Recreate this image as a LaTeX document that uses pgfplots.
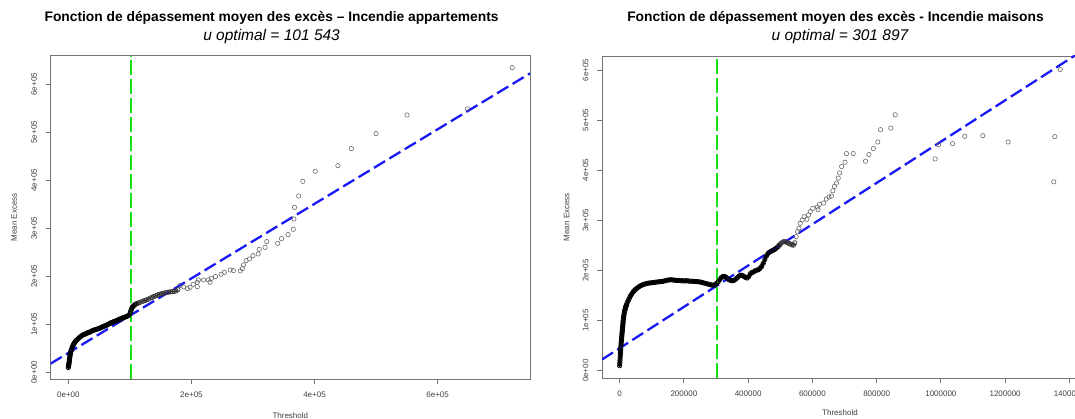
\documentclass[border=0pt]{standalone}
\usepackage{pgfplots}
\pgfplotsset{compat=1.18}
\usepackage{fontspec}
\setmainfont{Liberation Sans}
\definecolor{rgreen}{RGB}{25,225,25}
\definecolor{rblue}{RGB}{25,25,245}
\pgfplotsset{
 rstyle/.style={
  scale only axis,
  anchor=south west,
  axis line style={draw=black!55, line width=0.8pt},
  tick align=outside,
  xtick pos=bottom, ytick pos=left,
  major tick length=5pt,
  every tick/.style={black!55, line width=0.8pt},
  tick label style={font=\fontsize{8}{9}\selectfont, text=black!75},
  yticklabel style={rotate=90, anchor=south},
  xticklabel shift=4pt,
  yticklabel shift=5pt,
  label style={font=\fontsize{8}{9}\selectfont, text=black!75},
  xlabel={Threshold}, ylabel={Mean Excess},
  scaled ticks=false,
  ytick={0,100000,200000,300000,400000,500000,600000},
  yticklabels={0e+00,1e+05,2e+05,3e+05,4e+05,5e+05,6e+05},
 },
 sparse/.style={only marks, mark=o, mark size=2.2pt, mark options={draw=black!62, line width=0.55pt}},
 dense/.style={black, line width=3pt, line join=round, line cap=round, mark=o, mark size=2.2pt, mark options={draw=black, line width=0.8pt, solid}},
 semidense/.style={black!85, line width=1.2pt, line join=round, mark=o, mark size=2.2pt, mark options={draw=black!80, line width=0.7pt, solid}},
 blueline/.style={rblue, line width=2.3pt, dash pattern=on 13pt off 5pt},
 greenline/.style={rgreen, line width=2pt, dash pattern=on 15pt off 4pt},
}
\begin{document}
\begin{tikzpicture}
\path[use as bounding box] (0,0) rectangle (1075pt,419pt);
\node[font=\fontsize{13.8}{15}\selectfont\bfseries] at (271.6pt,401pt) {Fonction de dépassement moyen des excès – Incendie appartements};
\node[font=\fontsize{15.5}{17}\selectfont\itshape] at (271.6pt,382.5pt) {u optimal = 101 543};
\node[font=\fontsize{13.8}{15}\selectfont\bfseries] at (835.5pt,401pt) {Fonction de dépassement moyen des excès - Incendie maisons};
\node[font=\fontsize{15.5}{17}\selectfont\itshape] at (840pt,382.5pt) {u optimal = 301 897};

\begin{axis}[rstyle,
  at={(50.6pt,39.7pt)}, width=479.4pt, height=323.6pt,
  xmin=-28850, xmax=750150, ymin=-14600, ymax=659600,
  xtick={0,200000,400000,600000},
  xticklabels={0e+00,2e+05,4e+05,6e+05},
  xlabel style={at={(axis description cs:0.5,-0.112)}, anchor=center},
  ylabel style={at={(axis description cs:-0.076,0.5)}, anchor=center},
]
\addplot[dense] coordinates {
(0,10000) (300,12500) (600,15000) (900,17500) (1200,20000) (1500,23000) (1800,26000) (2100,29000) (2400,32000) (2700,35000) (3000,37000) (3500,40000) (4000,43000) (4500,45000) (5000,47000) (6000,51000) (7000,54000) (8000,57000) (9000,59500) (10000,61500) (11000,63500) (12000,65000) (13000,66500) (14000,67500) (16000,70000) (18000,72500) (20000,74500) (22000,76500) (24000,78000) (26000,79000) (28000,80000) (30000,81500) (32000,82500) (34000,83500) (36000,84500) (38000,86000) (40000,87000) (42000,88000) (44000,89000) (46000,89500) (48000,90500) (50000,91500) (52000,92500) (54000,93500) (56000,95000) (58000,96000) (60000,97000) (62000,98000) (64000,99500) (66000,101000) (68000,102000) (70000,103500) (72000,104500) (74000,105500) (76000,106500) (78000,107500) (80000,108500) (82000,110000) (84000,111000) (86000,112000) (88000,113000) (90000,114000) (92000,115000) (94000,116000) (96000,117000) (98000,118500) (100000,122000) (101000,126000) (102000,130000) (103000,133000) (104000,135500) (105000,137000) (107000,139500) (109000,141500) (112000,143500)
};
\addplot[semidense] coordinates {
(112000,143500) (115000,145000) (118000,146500) (121000,148000) (124000,149500) (127000,151000) (130000,152500) (133000,154500) (136000,156000) (139000,158000) (142000,159500) (145000,161000) (148000,162500) (151000,163500) (154000,164500) (157000,165500) (160000,166500) (163000,167000) (166000,167500) (169000,168000) (172000,168500) (175000,169500) (178000,172000)
};
\addplot[sparse] coordinates {
(181000,180500) (187700,177800) (193300,174300) (197800,177100) (202800,183300) (209500,178500) (209500,187500) (211200,192400) (219600,192400) (227400,192400) (230200,187500) (232400,195800) (239100,199300) (248100,204200) (253600,208300) (263100,213200) (268200,211800) (279300,211100) (282700,216000) (284400,223600) (288900,232600) (294400,236100) (300000,243000) (308400,246500) (310100,256200) (319600,260400) (322400,272200) (340200,268700) (346400,278500) (357000,286800) (365400,297900) (366500,319400) (367600,343700) (374300,367300) (381000,397900) (401100,418700) (438000,430500) (459800,466000) (500000,497200) (550300,536100) (648600,548600) (721300,634700)
};
\addplot[blueline] coordinates {(-28850,18010) (750150,622760)};
\addplot[greenline] coordinates {(101543,-14600) (101543,659600)};
\end{axis}

\begin{axis}[rstyle,
  at={(602pt,40.7pt)}, width=476pt, height=322.3pt,
  xmin=-54900, xmax=1426900, ymin=-15200, ymax=627900,
  xtick={0,200000,400000,600000,800000,1000000,1200000,1400000},
  xticklabels={0,200000,400000,600000,800000,1000000,1200000,1400000},
  xlabel style={at={(axis description cs:0.5,-0.106)}, anchor=center},
  ylabel style={at={(axis description cs:-0.074,0.5)}, anchor=center},
]
\addplot[dense] coordinates {
(0,10000) (500,15000) (1000,20000) (1500,25000) (2000,30000) (2500,35000) (3000,40000) (3500,44500) (4000,49000) (4500,53000) (5000,57000) (5500,60500) (6000,64000) (6500,67500) (7000,71000) (7500,74500) (8000,78000) (8500,81500) (9000,85000) (9500,88500) (10000,92000) (10500,95500) (11000,99000) (11500,102000) (12000,105000) (12500,107500) (13000,110000) (14000,114000) (15000,117500) (16000,120000) (17000,122500) (18000,125000) (19000,127000) (20000,129000) (21000,131000) (23000,134500) (26000,139000) (29000,143000) (32000,147000) (35000,150500) (38000,153500) (42000,157000) (46000,160000) (50000,162500) (55000,165000) (60000,167500) (65000,169500) (70000,171000) (76000,172500) (82000,173500) (88000,174500) (94000,175000) (100000,175500) (106000,176000) (112000,176500) (118000,177000) (124000,177500) (130000,178000) (136000,178500) (142000,179500) (148000,180500) (154000,181000) (160000,181500) (166000,181000) (172000,180500) (178000,180000) (184000,180000) (190000,179500) (196000,179500) (202000,179000) (208000,179500) (214000,179000) (220000,178500) (226000,178500) (232000,178000) (238000,178000) (244000,177500) (250000,177000) (256000,176000) (262000,175000) (268000,174000) (274000,173000) (280000,172000) (286000,171000) (292000,170500) (297000,171500) (302000,174000) (307000,177500) (312000,182000) (317000,186000) (322000,188000) (327000,188000) (332000,186000) (337000,183000) (342000,181000) (347000,180000) (352000,179500) (357000,180500) (362000,183000) (367000,186000) (372000,189000) (377000,190500) (382000,190000) (387000,188000) (392000,186000) (397000,185000) (402000,188000) (407000,193500) (412000,196000) (417000,197000) (422000,199500) (427000,200500) (432000,201500) (437000,204000) (442000,208000) (447000,214000) (452000,222000) (457000,229000) (462000,234000) (467000,236500) (472000,238500) (477000,240000) (482000,242000) (487000,244000) (492000,247000) (497000,250500)
};
\addplot[semidense] coordinates {
(497000,250500) (502000,254000) (507000,256500) (512000,257500) (517000,257000) (522000,255500) (527000,254000) (532000,252500) (537000,251000) (541000,250500) (545000,255000)
};
\addplot[sparse] coordinates {
(549600,267400) (553700,277300) (558000,284100) (562000,294100) (568300,300700) (574500,307300) (582900,302100) (588000,310700) (593200,317300) (601600,324000) (615700,326500) (617800,321200) (622100,331800) (634800,334500) (643300,342400) (651800,346400) (659200,348400) (663500,359000) (668800,367600) (675200,374200) (680500,384100) (684700,394700) (691100,407300) (701700,415900) (706000,433100) (727200,433100) (765400,417900) (776000,431200) (789800,443100) (803600,456300) (812100,480800) (844000,484100) (857800,510600) (982000,422500) (992600,451000) (1036100,453000) (1074300,467600) (1130600,468900) (1209200,456300) (1351400,376800) (1354600,466900) (1371600,600700)
};
\addplot[blueline] coordinates {(-54900,22250) (1426900,632900)};
\addplot[greenline] coordinates {(301897,-15200) (301897,627900)};
\end{axis}
\end{tikzpicture}
\end{document}
